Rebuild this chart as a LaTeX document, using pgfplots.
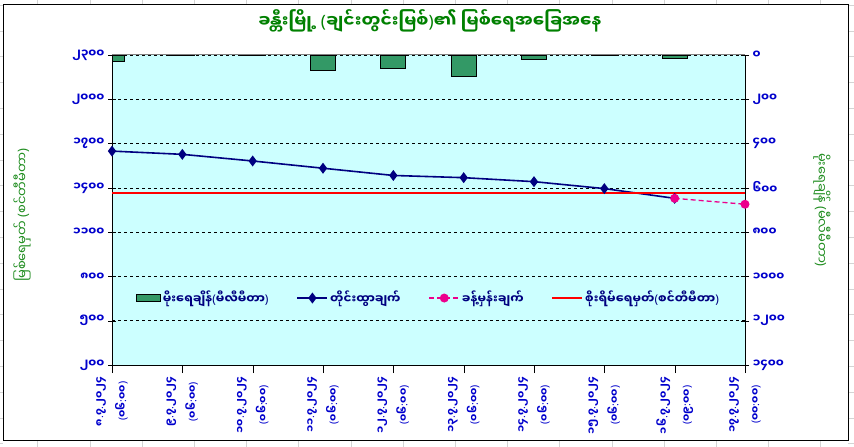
\documentclass[border=0pt]{standalone}
\usepackage{fontspec}
\usepackage{pgfplots}
\pgfplotsset{compat=1.18}
\newfontfamily\mm[Script=Myanmar]{Noto Sans Myanmar UI}
\newfontfamily\lat{Noto Sans}
% punctuation that the Myanmar font lacks
\def\op{{\lat(}}
\def\cp{{\lat)}}
\def\dt{{\lat.}}
\def\cl{{\lat:}}
\definecolor{titlegreen}{HTML}{008000}
\definecolor{labgreen}{HTML}{1E8C1E}
\definecolor{tickblue}{HTML}{0000CC}
\definecolor{legblue}{HTML}{000080}
\definecolor{plotcyan}{HTML}{CCFFFF}
\definecolor{bargreen}{HTML}{339966}
\definecolor{navyline}{HTML}{000080}
\definecolor{sheetgrid}{HTML}{D4D4D4}

\begin{document}
\begin{tikzpicture}[x=1pt,y=1pt]
% spreadsheet cells showing round the chart
\foreach \xx in {37.6,89.8,...,854} {
  \draw[sheetgrid] (\xx,0) -- (\xx,6);
  \draw[sheetgrid] (\xx,442) -- (\xx,447);
}
\foreach \yy in {3.4,29.2,...,447} {
  \draw[sheetgrid] (0,\yy) -- (3,\yy);
  \draw[sheetgrid] (848,\yy) -- (854,\yy);
}
\draw[black, line width=1pt] (3,6) rectangle (848,442);

% rain, right axis (drawn downward from the top)
\begin{axis}[at={(112pt,82pt)}, anchor=south west, scale only axis,
  width=633pt, height=310pt,
  xmin=0, xmax=9, ymin=-1400, ymax=0,
  axis y line*=right, axis x line=none,
  axis background/.style={fill=plotcyan},
  ytick={-1400,-1200,...,0},
  yticklabels={၁၄၀၀,၁၂၀၀,၁၀၀၀,၈၀၀,၆၀၀,၄၀၀,၂၀၀,၀},
  yticklabel style={font=\mm\bfseries\fontsize{11.5}{12}\selectfont, text=tickblue},
  tick align=center, major tick length=8pt, tick style={black},
  y axis line style={black}]
\addplot[ybar, bar width=25pt, fill=bargreen, draw=black, line width=0.9pt]
  coordinates {(0,-27) (1,-2) (2,-2) (3,-68) (4,-59) (5,-99) (6,-18) (7,-2) (8,-14)};
\end{axis}

% water level, left axis
\begin{axis}[at={(112pt,82pt)}, anchor=south west, scale only axis,
  width=633pt, height=310pt,
  xmin=0, xmax=9, ymin=200, ymax=2300,
  axis y line*=left, axis x line*=bottom,
  ytick={200,500,...,2300},
  yticklabels={၂၀၀,၅၀၀,၈၀၀,၁၁၀၀,၁၄၀၀,၁၇၀၀,၂၀၀၀,၂၃၀၀},
  yticklabel style={font=\mm\bfseries\fontsize{11.5}{12}\selectfont, text=tickblue},
  xtick={0,...,9},
  xticklabels={
    {၈\dt၇\dt၂၀၂၄\\\op၀၆\cl၀၀\cp},{၉\dt၇\dt၂၀၂၄\\\op၀၆\cl၀၀\cp},
    {၁၀\dt၇\dt၂၀၂၄\\\op၀၆\cl၀၀\cp},{၁၁\dt၇\dt၂၀၂၄\\\op၀၆\cl၀၀\cp},
    {၁၂\dt၇\dt၂၀၂၄\\\op၀၆\cl၀၀\cp},{၁၃\dt၇\dt၂၀၂၄\\\op၀၆\cl၀၀\cp},
    {၁၄\dt၇\dt၂၀၂၄\\\op၀၆\cl၀၀\cp},{၁၅\dt၇\dt၂၀၂၄\\\op၀၆\cl၀၀\cp},
    {၁၆\dt၇\dt၂၀၂၄\\\op၀၉\cl၀၀\cp},{၁၇\dt၇\dt၂၀၂၄\\\op၀၀\cl၀၀\cp}},
  xticklabel style={font=\mm\bfseries\fontsize{10.5}{23}\selectfont, text=tickblue,
    rotate=90, anchor=east, align=center},
  x tick style={black}, major tick length=8pt,
  y tick style={black},
  ytick align=center, xtick align=outside,
  ymajorgrids, grid style={black, dashed, line width=0.6pt},
  axis line style={black},
  legend columns=4,
  legend style={at={(0.5,0.216)}, anchor=center, draw=none, fill=none,
    font=\mm\bfseries\fontsize{12}{13}\selectfont, text=legblue,
    /tikz/every even column/.append style={column sep=26pt}},
  legend image code/.code={\draw[mark repeat=2,mark phase=2,#1]
    plot coordinates {(0pt,0pt) (15pt,0pt) (30pt,0pt)};}]
\draw[gray, line width=1pt] (rel axis cs:0,1) -- (rel axis cs:1,1);
\addlegendimage{legend image code/.code={\draw[fill=bargreen, draw=black, line width=0.8pt] (0pt,-3.5pt) rectangle (24pt,3.5pt);}}
\addlegendentry{မိုးရေချိန်\op မီလီမီတာ\cp}
\addplot[navyline, line width=1.6pt, mark=diamond*, mark size=4.2pt]
  coordinates {(0,1649) (1,1627) (2,1582) (3,1533) (4,1484) (5,1469) (6,1442) (7,1395) (8,1329)};
\addlegendentry{တိုင်းထွာချက်}
\addplot[magenta, dash pattern=on 5pt off 3pt, line width=1.3pt, mark=*, mark size=3.8pt, mark options={solid}]
  coordinates {(8,1329) (9,1289)};
\addlegendentry{ခန့်မှန်းချက်}
\addplot[red, line width=1.6pt] coordinates {(0,1365) (9,1365)};
\addlegendentry{စိုးရိမ်ရေမှတ်\op စင်တီမီတာ\cp}
\end{axis}

\node[text=titlegreen, font=\mm\bfseries\fontsize{17}{20}\selectfont] at (430,426)
  {ခန္တီးမြို့ \op ချင်းတွင်းမြစ်\cp ၏ မြစ်ရေအခြေအနေ};
\node[rotate=90, text=labgreen, font=\mm\fontsize{13}{15}\selectfont] at (22,232)
  {မြစ်ရေမှတ် \op စင်တီမီတာ\cp};
\node[rotate=-90, text=labgreen, font=\mm\fontsize{13}{15}\selectfont] at (822,237)
  {မိုးရေချိန် \op မီလီမီတာ\cp};
\pgfresetboundingbox
\path[use as bounding box] (0,0) rectangle (854,447);
\end{tikzpicture}
\end{document}
